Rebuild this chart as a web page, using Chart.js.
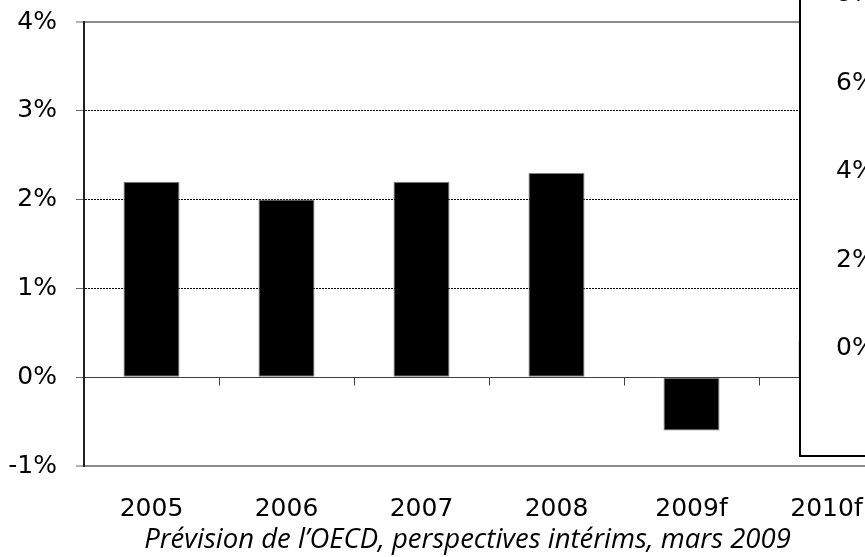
<!DOCTYPE html>
<html>
<head>
<meta charset="utf-8">
<script src="https://cdn.jsdelivr.net/npm/chart.js@4"></script>
<style>
  html, body { margin: 0; padding: 0; background: #fff; overflow: hidden; }
  #wrap { position: relative; width: 865px; height: 557px; overflow: hidden; background: #fff; }
  #mainChart { position: absolute; left: 0; top: 0; }
  #note { position: absolute; left: 0; top: 523px; width: 935px; text-align: center; white-space: nowrap;
          font: italic 27.5px/30px 'Open Sans', sans-serif; color: #000; }
  #inset { position: absolute; left: 799px; top: -2px; width: 80px; height: 457px;
           background: #fff; border-left: 2px solid #000; border-bottom: 2px solid #000; overflow: hidden; }
  #insetChart { position: absolute; left: 0; top: -40px; }
</style>
</head>
<body>
<div id="wrap">
  <canvas id="mainChart" width="928" height="557"></canvas>
  <div id="note"></div>
  <div id="inset"><canvas id="insetChart" width="120" height="500"></canvas></div>
</div>
<script>
// GDP growth, OECD interim forecast (March 2009)
const years = ['2005', '2006', '2007', '2008', '2009f', '2010f'];
const growth = [2.2, 2.0, 2.2, 2.3, -0.6, 0.4];
const yMin = -1, yMax = 4, yStep = 1;
const subtitle = 'Prévision de l\u2019OECD, perspectives intérims, mars 2009';

// the neighbouring chart that overlaps on the right (only its axis shows)
const insetTicks = ['0%', '2%', '4%', '6%', '8%'];
const insetMin = 0, insetMax = 8, insetStep = 2;

const labelFont = { family: "'DejaVu Sans', sans-serif", size: 25 };

document.getElementById('note').textContent = subtitle;

// small tick marks under the zero line, at category boundaries
const zeroTicks = {
  id: 'zeroTicks',
  afterDatasetsDraw(chart) {
    const { ctx, scales: { x, y } } = chart;
    const y0 = Math.round(y.getPixelForValue(0)) + 0.5;
    const half = (x.getPixelForValue(1) - x.getPixelForValue(0)) / 2;
    ctx.save();
    ctx.strokeStyle = '#404040';
    ctx.lineWidth = 1;
    for (let i = 1; i < years.length; i++) {
      const px = Math.round(x.getPixelForValue(i) - half) + 0.5;
      ctx.beginPath();
      ctx.moveTo(px, y0);
      ctx.lineTo(px, y0 + 8);
      ctx.stroke();
    }
    ctx.restore();
  }
};

const isEdge = v => v === yMin || v === yMax;

new Chart(document.getElementById('mainChart').getContext('2d'), {
  type: 'bar',
  data: {
    labels: years,
    datasets: [{
      data: growth,
      backgroundColor: '#000',
      borderColor: '#7f7f7f',
      borderWidth: 1,
      borderSkipped: false,
      categoryPercentage: 1,
      barPercentage: 0.415
    }]
  },
  options: {
    responsive: false,
    animation: false,
    layout: { padding: { left: 0, top: 22, right: 34, bottom: 0 } },
    plugins: {
      legend: { display: false },
      tooltip: { enabled: false }
    },
    scales: {
      x: {
        grid: { display: false, drawTicks: false },
        border: { display: true, color: '#8c8c8c', width: 2 },
        ticks: { color: '#000', font: labelFont, padding: 28, maxRotation: 0 },
        afterFit: s => { s.height = 91; }
      },
      y: {
        min: yMin,
        max: yMax,
        ticks: { stepSize: yStep, color: '#000', font: labelFont, padding: 19, callback: v => v + '%' },
        grid: {
          color: c => !c.tick ? '#000' : c.tick.value === 0 ? '#404040' : isEdge(c.tick.value) ? '#8c8c8c' : '#000',
          lineWidth: c => (c.tick && isEdge(c.tick.value)) ? 2 : 1,
          tickColor: '#666',
          tickLength: 8,
          tickWidth: 1
        },
        border: {
          color: '#222',
          width: 2,
          dash: c => (c.tick && c.tick.value > yMin && c.tick.value < yMax && c.tick.value !== 0) ? [2, 1] : []
        },
        afterFit: s => { s.width = 84; s.paddingTop = 0; }
      }
    }
  },
  plugins: [zeroTicks]
});

new Chart(document.getElementById('insetChart').getContext('2d'), {
  type: 'bar',
  data: { labels: [''], datasets: [] },
  options: {
    responsive: false,
    animation: false,
    layout: { padding: { left: 35, top: 36.5, right: 0, bottom: 109.5 } },
    plugins: { legend: { display: false }, tooltip: { enabled: false } },
    scales: {
      x: { display: false },
      y: {
        display: true,
        min: insetMin,
        max: insetMax,
        ticks: { stepSize: insetStep, color: '#000', font: labelFont, padding: 0, crossAlign: 'far',
                 callback: (v, i) => insetTicks[i] },
        grid: { display: false },
        border: { display: false }
      }
    }
  }
});
</script>
</body>
</html>
